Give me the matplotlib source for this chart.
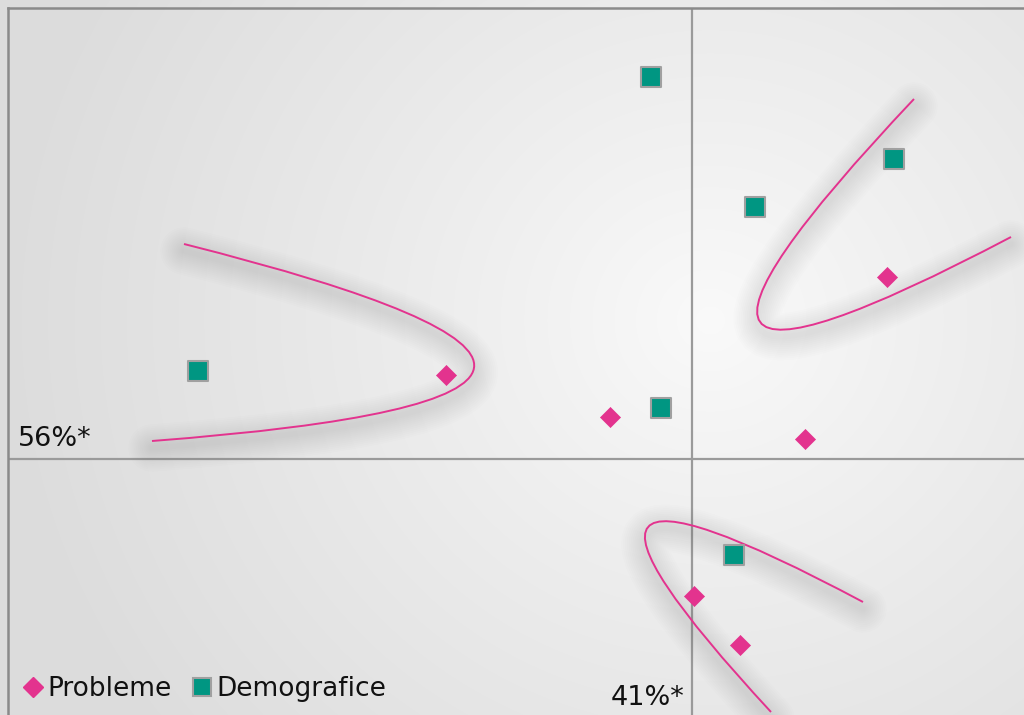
import numpy as np
import matplotlib
matplotlib.use("Agg")
import matplotlib.pyplot as plt
from matplotlib.path import Path
from matplotlib.patches import PathPatch
from matplotlib.transforms import ScaledTranslation
from matplotlib.lines import Line2D

# ---- data (dimension 1 = x, dimension 2 = y) ----
probleme_x = [-2.46, 1.95, -0.82, 1.13, 0.02, 0.48]
probleme_y = [0.84, 1.82, 0.42, 0.20, -1.37, -1.86]
demografice_x = [-0.41, 2.02, 0.63, -4.94, -0.31, 0.42]
demografice_y = [3.82, 3.00, 2.52, 0.88, 0.51, -0.96]

# cluster curves (quadratic Bezier: start, control, end)
curve_left = [(-5.08, 2.15), (0.88, 0.655), (-5.40, 0.18)]
curve_right = [(2.22, 3.60), (-1.345, -0.17), (3.19, 2.22)]
curve_bottom = [(1.71, -1.43), (-2.13, 0.62), (0.79, -2.53)]

dim1_label = "56%*"
dim2_label = "41%*"
series_names = ["Probleme", "Demografice"]

PINK = "#e3338e"
TEAL = "#009682"
FS = 19.5

W, H = 1024, 715
fig = plt.figure(figsize=(W / 100, H / 100), dpi=100)

# background radial gradient
bg = fig.add_axes([0, 0, 1, 1])
yy, xx = np.mgrid[0:H, 0:W]
r = np.sqrt(((xx - 710) / 1.0) ** 2 + ((yy - 320) / 0.95) ** 2)
v = 0.98 - 0.115 * np.clip(r / 700, 0, 1) ** 0.9
bg.imshow(np.dstack([v, v, v]), extent=[0, W, H, 0], aspect="auto")
bg.set_axis_off()

# main axes: from px x=8 to 1024, y=8 to 715
x0, x1 = -6.84, 3.32
y0, y1 = -2.56, 4.51
ax = fig.add_axes([8 / W, 0, 1 - 8 / W, 1 - 8 / H])
ax.set_xlim(x0, x1)
ax.set_ylim(y0, y1)
ax.patch.set_alpha(0)
for s in ["right", "bottom"]:
    ax.spines[s].set_visible(False)
for s in ["top", "left"]:
    ax.spines[s].set_color("#8a8a8a")
    ax.spines[s].set_linewidth(1.8)
ax.set_xticks([])
ax.set_yticks([])

ax.axhline(0, color="#9a9a9a", lw=1.6, zorder=1)
ax.axvline(0, color="#9a9a9a", lw=1.6, zorder=1)

codes = [Path.MOVETO, Path.CURVE3, Path.CURVE3]
off = ScaledTranslation(0, -7 / 100, fig.dpi_scale_trans)
for c in [curve_left, curve_right, curve_bottom]:
    path = Path(c, codes)
    for lw in np.linspace(34, 4, 12):
        ax.add_patch(PathPatch(path, fill=False, edgecolor="#606060", lw=lw,
                               alpha=0.010, transform=ax.transData + off,
                               zorder=2, capstyle="round"))
    ax.add_patch(PathPatch(path, fill=False, edgecolor=PINK, lw=1.4, zorder=3))

ax.scatter(demografice_x, demografice_y, marker="s", s=14 ** 2, color=TEAL,
           edgecolor="#a0a0a0", linewidth=1.5, zorder=4)
ax.scatter(probleme_x, probleme_y, marker="D", s=10.2 ** 2, color=PINK,
           edgecolor=PINK, linewidth=0.5, zorder=4)

ax.text(x0 + 0.10, 0.07, dim1_label, fontsize=FS, color="#111111",
        ha="left", va="bottom", family="DejaVu Sans")
ax.text(-0.08, -2.52, dim2_label, fontsize=FS, color="#111111",
        ha="right", va="bottom", family="DejaVu Sans")

handles = [
    Line2D([], [], marker="D", ls="", color=PINK, markersize=10,
           markeredgecolor=PINK),
    Line2D([], [], marker="s", ls="", color=TEAL, markersize=13,
           markeredgecolor="#a0a0a0", markeredgewidth=1.5),
]
leg = ax.legend(handles, series_names, loc="lower left",
                bbox_to_anchor=(0.006, 0.003), ncol=2, frameon=False,
                fontsize=19, handlelength=0.6, handletextpad=0.25,
                columnspacing=0.85, borderaxespad=0.1, borderpad=0.3)
for t in leg.get_texts():
    t.set_color("#111111")

fig.savefig("out.png", dpi=100)
